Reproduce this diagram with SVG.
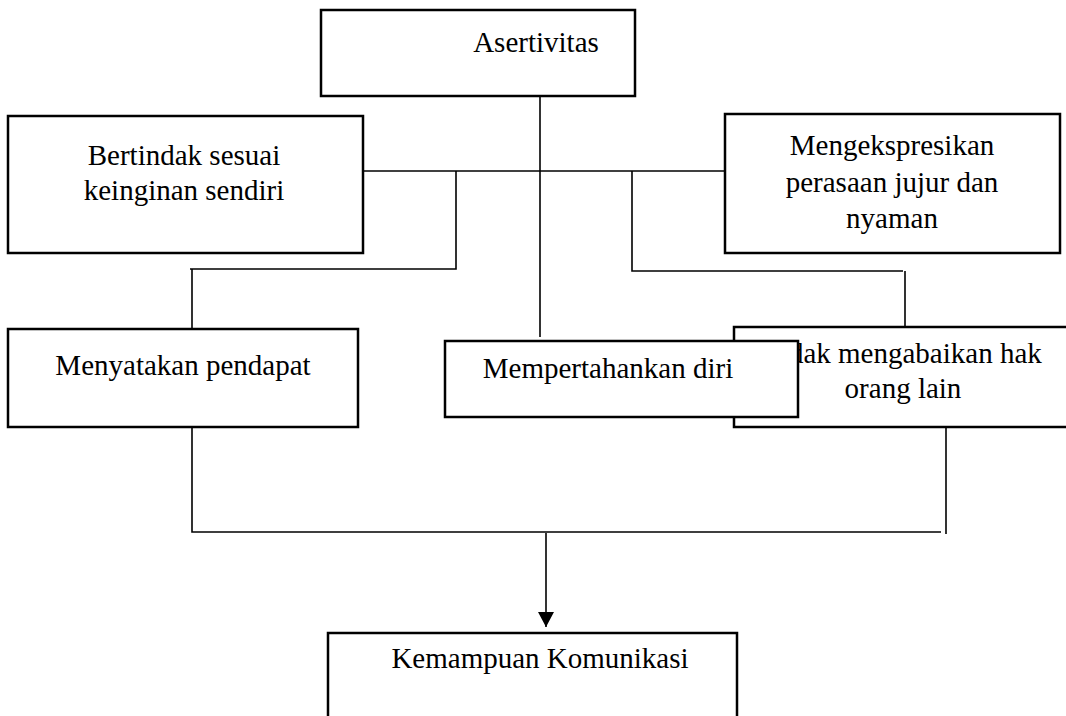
<svg xmlns="http://www.w3.org/2000/svg" width="1066" height="716" viewBox="0 0 1066 716">
<defs>
<style>
.box{fill:#fff;stroke:#000;stroke-width:2.5}
.t{font-family:"Liberation Serif","Times New Roman",serif;font-size:29px;fill:#000;text-anchor:middle}
.c{fill:none;stroke:#000;stroke-width:1.6}
</style>
<marker id="ah" markerWidth="16" markerHeight="16" refX="15" refY="8" orient="auto" markerUnits="userSpaceOnUse">
<path d="M0,0 L15,8 L0,16 Z" fill="#000"/>
</marker>
</defs>
<rect width="1066" height="716" fill="#fff"/>
<g id="connectors">
<path class="c" d="M540,96 V337"/>
<path class="c" d="M363,171 H725"/>
<path class="c" d="M456,171 V269 H190 M192,269 V329"/>
<path class="c" d="M632,171 V271 H903 M905,271 V327"/>
<path class="c" d="M192,427 V532 H941"/>
<path class="c" d="M946,428 V534"/>
<path class="c" stroke-width="2" d="M546,533 V627" marker-end="url(#ah)"/>
</g>
<g id="node-asertivitas">
<rect class="box" x="321" y="10" width="314" height="86"/>
<text class="t" x="536" y="52">Asertivitas</text>
</g>
<g id="node-bertindak">
<rect class="box" x="8" y="116" width="355" height="137"/>
<text class="t" x="184" y="165">Bertindak sesuai</text>
<text class="t" x="184" y="200">keinginan sendiri</text>
</g>
<g id="node-mengekspresikan">
<rect class="box" x="725" y="114" width="335" height="139"/>
<text class="t" x="892" y="155">Mengekspresikan</text>
<text class="t" x="892" y="192">perasaan jujur dan</text>
<text class="t" x="892" y="228">nyaman</text>
</g>
<g id="node-menyatakan">
<rect class="box" x="8" y="329" width="350" height="98"/>
<text class="t" x="183" y="375">Menyatakan pendapat</text>
</g>
<g id="node-tidak-mengabaikan">
<rect class="box" x="734" y="327" width="345" height="100"/>
<text class="t" x="903" y="363">Tidak mengabaikan hak</text>
<text class="t" x="903" y="398">orang lain</text>
</g>
<g id="node-mempertahankan">
<rect class="box" x="445" y="341" width="353" height="76"/>
<text class="t" x="608" y="378">Mempertahankan diri</text>
</g>
<g id="node-kemampuan">
<rect class="box" x="328" y="633" width="409" height="100"/>
<text class="t" x="540" y="668">Kemampuan Komunikasi</text>
</g>
</svg>
